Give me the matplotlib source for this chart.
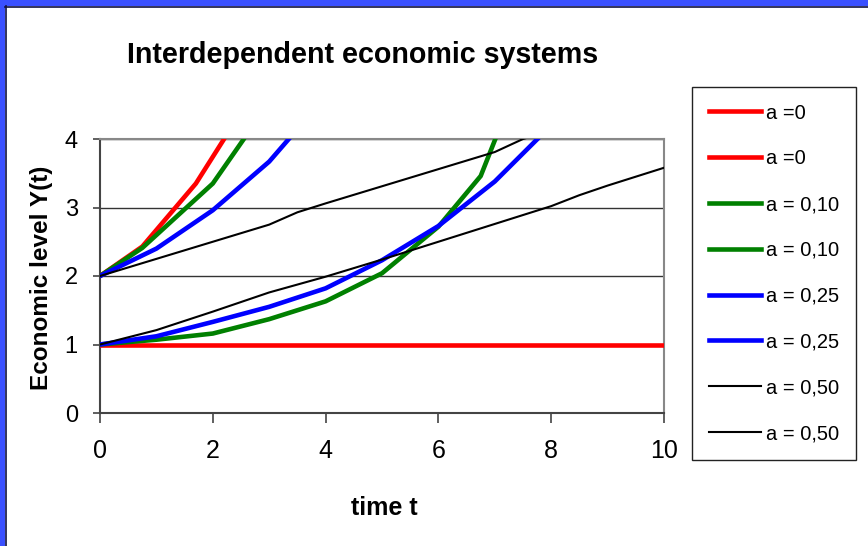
import matplotlib
matplotlib.use("Agg")
import matplotlib.pyplot as plt
from matplotlib.patches import Rectangle

# Economic level Y(t) for two starting levels and four coupling strengths a
t_red_hi = [0, 0.75, 1.7, 2.2, 2.5]
y_red_hi = [2.0, 2.43, 3.35, 4.0, 4.45]
t_red_lo = [0, 10]
y_red_lo = [1.0, 1.0]

t_green_hi = [0, 0.75, 2.0, 2.55, 3.0]
y_green_hi = [2.0, 2.41, 3.35, 4.0, 4.6]
t_green_lo = [0, 1, 2, 3, 4, 5, 6, 6.75, 7.25]
y_green_lo = [1.0, 1.07, 1.16, 1.37, 1.63, 2.04, 2.72, 3.46, 4.5]

t_blue_hi = [0, 1, 2, 3, 3.4, 4]
y_blue_hi = [2.0, 2.40, 2.96, 3.67, 4.05, 4.6]
t_blue_lo = [0, 1, 2, 3, 4, 5, 6, 7, 8]
y_blue_lo = [1.0, 1.12, 1.33, 1.55, 1.82, 2.23, 2.73, 3.38, 4.2]

t_black_hi = [0, 1, 2, 3, 3.5, 4, 5, 6, 7, 7.5, 8]
y_black_hi = [2.0, 2.25, 2.5, 2.75, 2.93, 3.06, 3.31, 3.56, 3.81, 4.0, 4.12]
t_black_lo = [0, 1, 2, 3, 4, 5, 6, 7, 8, 8.5, 9, 10]
y_black_lo = [1.0, 1.21, 1.48, 1.76, 1.99, 2.24, 2.5, 2.76, 3.02, 3.18, 3.32, 3.58]

legend_labels = ["a =0", "a =0", "a = 0,10", "a = 0,10",
                 "a = 0,25", "a = 0,25", "a = 0,50", "a = 0,50"]
x_ticks = [0, 2, 4, 6, 8, 10]
y_ticks = [0, 1, 2, 3, 4]

W, H = 868, 546
fig = plt.figure(figsize=(W / 100, H / 100), dpi=100)
fig.patch.set_facecolor("white")

# slide frame on the top and left edges
frame_blue = "#3A50FF"
fig.patches.append(Rectangle((0, 1 - 6 / H), 1, 6 / H, transform=fig.transFigure,
                             facecolor=frame_blue, edgecolor="none", zorder=0))
fig.patches.append(Rectangle((0, 0), 5 / W, 1, transform=fig.transFigure,
                             facecolor=frame_blue, edgecolor="none", zorder=0))
fig.add_artist(plt.Line2D([5 / W, 1], [1 - 6.5 / H, 1 - 6.5 / H], transform=fig.transFigure,
                          color="#101040", lw=1.2))
fig.add_artist(plt.Line2D([5.5 / W, 5.5 / W], [0, 1 - 6 / H], transform=fig.transFigure,
                          color="#101040", lw=1.2))

ax = fig.add_axes([100 / W, 1 - 413 / H, 564 / W, 274 / H])

series = [
    (t_red_hi, y_red_hi, "#FF0000", 3.3),
    (t_red_lo, y_red_lo, "#FF0000", 3.3),
    (t_green_hi, y_green_hi, "#008000", 3.3),
    (t_green_lo, y_green_lo, "#008000", 3.3),
    (t_blue_hi, y_blue_hi, "#0000FF", 3.3),
    (t_blue_lo, y_blue_lo, "#0000FF", 3.3),
    (t_black_hi, y_black_hi, "#000000", 1.5),
    (t_black_lo, y_black_lo, "#000000", 1.5),
]
handles = []
for (tx, ty, col, lw), lab in zip(series, legend_labels):
    h, = ax.plot(tx, ty, color=col, lw=lw, label=lab, solid_joinstyle="miter", zorder=3)
    handles.append(h)

ax.set_xlim(0, 10)
ax.set_ylim(0, 4)
ax.set_xticks(x_ticks)
ax.set_yticks(y_ticks)
for yv in y_ticks[1:]:
    ax.axhline(yv, color="#333333", lw=1.0, zorder=1)

for side in ["top", "right"]:
    ax.spines[side].set_color("#888888")
    ax.spines[side].set_linewidth(1.5)
for side in ["left", "bottom"]:
    ax.spines[side].set_color("#444444")
    ax.spines[side].set_linewidth(1.5)
ax.tick_params(direction="out", width=1.2, color="#444444")
ax.tick_params(axis="x", length=7, pad=12)
ax.tick_params(axis="y", length=5, pad=11)

for lbl in ax.get_xticklabels():
    lbl.set_fontfamily(["Liberation Sans", "DejaVu Sans"])
    lbl.set_fontsize(18)
for lbl in ax.get_yticklabels():
    lbl.set_fontfamily(["Liberation Sans", "DejaVu Sans"])
    lbl.set_fontsize(17)

fig.text(363 / W, 1 - 55 / H, "Interdependent economic systems",
         family=["Liberation Sans", "DejaVu Sans"], weight="bold",
         fontsize=20.6, ha="center", va="center")
fig.text(384 / W, 1 - 508 / H, "time t",
         family=["Liberation Sans", "DejaVu Sans"], weight="bold",
         fontsize=18, ha="center", va="center")
fig.text(42 / W, 1 - 278 / H, "Economic level Y(t)",
         family=["Liberation Sans", "DejaVu Sans"], weight="bold",
         fontsize=17.5, ha="center", va="center", rotation=90)

leg = fig.legend(handles=handles, labels=legend_labels,
                 loc="upper left", bbox_to_anchor=(692 / W, 1 - 87 / H),
                 bbox_transform=fig.transFigure,
                 prop={"family": ["Liberation Sans", "DejaVu Sans"], "size": 14.5},
                 frameon=True, fancybox=False, framealpha=1, edgecolor="#222222",
                 borderaxespad=0, borderpad=0.82, handlelength=2.6,
                 handletextpad=0.25, labelspacing=1.33)
leg.get_frame().set_linewidth(1.0)

fig.savefig("out.png", dpi=100, facecolor="white")
